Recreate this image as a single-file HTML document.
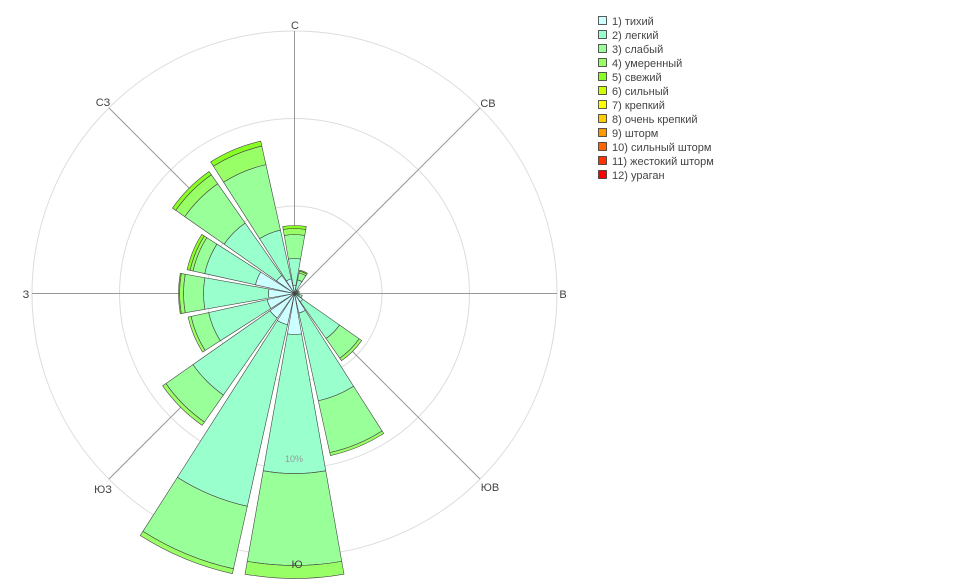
<!DOCTYPE html>
<html><head><meta charset="utf-8"><style>
html,body{margin:0;padding:0;background:#fff;width:954px;height:588px;overflow:hidden}
svg{display:block;font-family:"Liberation Sans","DejaVu Sans",sans-serif}
</style></head><body>
<svg id="s" width="954" height="588" viewBox="0 0 954 588">
<g fill="none" stroke="#dddddd" stroke-width="1">
<circle cx="294.5" cy="293.5" r="87.5"/>
<circle cx="294.5" cy="293.5" r="175"/>
<circle cx="294.5" cy="293.5" r="262.5"/>
</g>
<g id="axes" stroke="#999" stroke-width="1"></g>
<g id="bars" stroke="#444" stroke-width="0.6"></g>
<text x="294" y="462" font-size="9" fill="#999" text-anchor="middle">10%</text>
<g font-size="11" fill="#444" text-anchor="middle">
<text x="295" y="29">С</text>
<text x="488" y="107">СВ</text>
<text x="563" y="298">В</text>
<text x="490" y="491">ЮВ</text>
<text x="297" y="568">Ю</text>
<text x="103" y="493">ЮЗ</text>
<text x="26" y="298">З</text>
<text x="103" y="106">СЗ</text>
</g>
<g id="leg" font-size="11" fill="#444"></g>
</svg>
<script>
var cx=294.5,cy=293.5,NS="http://www.w3.org/2000/svg";
var cols=["#ccffff","#99ffcc","#99ff99","#99ff66","#88ff22","#ccff00","#ffff00","#ffcc00","#ff9900","#ff6600","#ff3300","#ff0000"];
var names=["1) тихий","2) легкий","3) слабый","4) умеренный","5) свежий","6) сильный","7) крепкий","8) очень крепкий","9) шторм","10) сильный шторм","11) жестокий шторм","12) ураган"];
var ax=document.getElementById("axes");
for(var i=0;i<8;i++){var a=i*45*Math.PI/180;var l=document.createElementNS(NS,"line");
l.setAttribute("x1",cx);l.setAttribute("y1",cy);l.setAttribute("x2",cx+262.5*Math.sin(a));l.setAttribute("y2",cy-262.5*Math.cos(a));ax.appendChild(l);}
var data=[
[8,35,59,65,68],[4,14,21,23,24],[2,3,4],[2,3,5],[2,3,4],[3,5,8],[10,55,79,82],[20,110,163,166],
[41,180,272,285],[32,218,282,287],[30,124,157,161],[28,88,106,109],[26,91,111,115,116],[40,92,104,107,110],[22,86,134,145,149],[15,65,132,151,156]];
var bars=document.getElementById("bars");
function P(r,a){a=a*Math.PI/180;return (cx+r*Math.sin(a)).toFixed(2)+","+(cy-r*Math.cos(a)).toFixed(2);}
data.forEach(function(d,i){var c=i*22.5,a1=c-10,a2=c+10,r0=0;
d.forEach(function(r,k){var p=document.createElementNS(NS,"path");
var s="M"+P(r0,a1)+" L"+P(r,a1)+" A"+r+","+r+" 0 0 1 "+P(r,a2)+" L"+P(r0,a2);
if(r0>0)s+=" A"+r0+","+r0+" 0 0 0 "+P(r0,a1);s+="Z";
p.setAttribute("d",s);p.setAttribute("fill",cols[k]);bars.appendChild(p);r0=r;});});
var lg=document.getElementById("leg");
names.forEach(function(n,i){var y=16+i*14;var r=document.createElementNS(NS,"rect");
r.setAttribute("x",598.5);r.setAttribute("y",y+0.5);r.setAttribute("width",8);r.setAttribute("height",8);
r.setAttribute("fill",cols[i]);r.setAttribute("stroke","#333");r.setAttribute("stroke-width","0.8");lg.appendChild(r);
var t=document.createElementNS(NS,"text");t.setAttribute("x",612);t.setAttribute("y",y+9);t.textContent=n;lg.appendChild(t);});
</script>
</body></html>
